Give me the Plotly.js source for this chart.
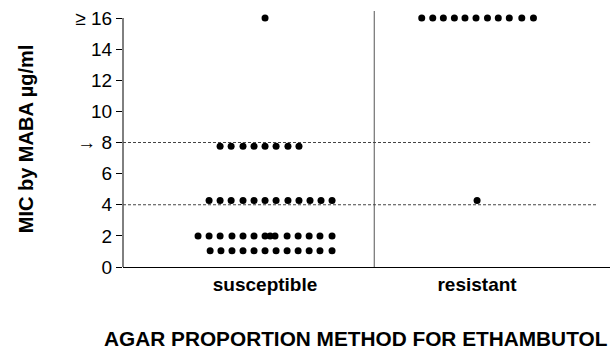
<!DOCTYPE html>
<html>
<head>
<meta charset="utf-8">
<script src="https://cdn.plot.ly/plotly-3.0.1.min.js"></script>
<style>html,body{margin:0;padding:0;background:#fff;}#chart{width:610px;height:349px;}</style>
</head>
<body>
<div id="chart"></div>
<script>
// Categories and tick labels
const categories = ['susceptible', 'resistant'];
const categoryPos = [1, 2];
const yTickVals = [0, 2, 4, 6, 8, 10, 12, 14, 16];
const yTickText = ['0', '2', '4', '6', '→ 8', '10', '12', '14', '≥ 16'];

// Susceptible isolates: MIC (as plotted) and jittered x position
const suscMIC = [
  16,
  7.76, 7.76, 7.76, 7.76, 7.76, 7.76, 7.76, 7.76,
  4.27, 4.27, 4.27, 4.27, 4.27, 4.27, 4.27, 4.27, 4.27, 4.27, 4.27, 4.27,
  2, 2, 2, 2, 2, 2, 2, 2, 2, 2, 2, 2, 2, 2,
  1.05, 1.05, 1.05, 1.05, 1.05, 1.05, 1.05, 1.05, 1.05, 1.05, 1.05, 1.05
];
const suscX = [
  1.0,
  0.788, 0.840, 0.896, 0.948, 1.0, 1.052, 1.108, 1.160,
  0.736, 0.788, 0.840, 0.896, 0.948, 1.0, 1.052, 1.108, 1.160, 1.212, 1.264, 1.316,
  0.684, 0.736, 0.788, 0.844, 0.896, 0.948, 1.0, 1.024, 1.047, 1.104, 1.156, 1.208, 1.259, 1.316,
  0.741, 0.792, 0.844, 0.896, 0.948, 1.0, 1.052, 1.104, 1.156, 1.208, 1.259, 1.316
];

// Resistant isolates
const resMIC = [16, 16, 16, 16, 16, 16, 16, 16, 16, 16, 16, 4.27];
const resX = [1.739, 1.791, 1.841, 1.893, 1.943, 1.995, 2.049, 2.100, 2.152, 2.211, 2.266, 2.0];

// Breakpoint reference lines
const breakpoints = [8, 4];
const breakpointEnds = [2.533, 2.566];

const markerStyle = {color: '#000', size: 7};
const traces = [
  {x: suscX, y: suscMIC, type: 'scatter', mode: 'markers', marker: markerStyle, hoverinfo: 'skip', cliponaxis: false},
  {x: resX, y: resMIC, type: 'scatter', mode: 'markers', marker: markerStyle, hoverinfo: 'skip', cliponaxis: false}
];

const shapes = [
  {type: 'line', xref: 'paper', yref: 'y', x0: 0, x1: 0, y0: 0, y1: 16, line: {color: '#000', width: 1}},
  {type: 'line', xref: 'x', yref: 'y', x0: 1.515, x1: 1.515, y0: 0, y1: 16.45, line: {color: '#555', width: 1}}
];
breakpoints.forEach((b, i) => {
  shapes.push({type: 'line', xref: 'x', yref: 'y', x0: 0.33, x1: breakpointEnds[i], y0: b, y1: b,
    line: {color: '#444', width: 1, dash: '3px,2px'}});
});

const font = 'Liberation Sans, Arial, Helvetica, sans-serif';
const layout = {
  width: 610, height: 349,
  margin: {l: 123, r: 0, t: 11, b: 82},
  paper_bgcolor: '#fff', plot_bgcolor: '#fff',
  showlegend: false,
  font: {family: font, color: '#000'},
  xaxis: {
    range: [0.33, 2.627],
    tickvals: categoryPos, ticktext: categories,
    tickfont: {family: font, size: 19, weight: 'bold', color: '#000'},
    ticks: '', showgrid: false, zeroline: false,
    showline: true, linecolor: '#000', linewidth: 1,
    fixedrange: true
  },
  yaxis: {
    range: [0, 16.45],
    tickvals: yTickVals, ticktext: yTickText,
    tickfont: {family: font, size: 19, color: '#000'},
    ticks: 'outside', ticklen: 6, tickcolor: '#000', tickwidth: 1,
    showgrid: false, zeroline: false, showline: false,
    title: {text: 'MIC by MABA µg/ml', font: {family: font, size: 20, weight: 'bold', color: '#000'}, standoff: 36},
    fixedrange: true
  },
  shapes: shapes,
  annotations: [
    {text: 'AGAR PROPORTION METHOD FOR ETHAMBUTOL', xref: 'paper', yref: 'paper',
     x: -0.043, y: -0.228, xanchor: 'left', yanchor: 'top', showarrow: false,
     font: {family: font, size: 20.8, weight: 'bold', color: '#000'}}
  ]
};

Plotly.newPlot('chart', traces, layout, {staticPlot: true, displayModeBar: false});
</script>
</body>
</html>
